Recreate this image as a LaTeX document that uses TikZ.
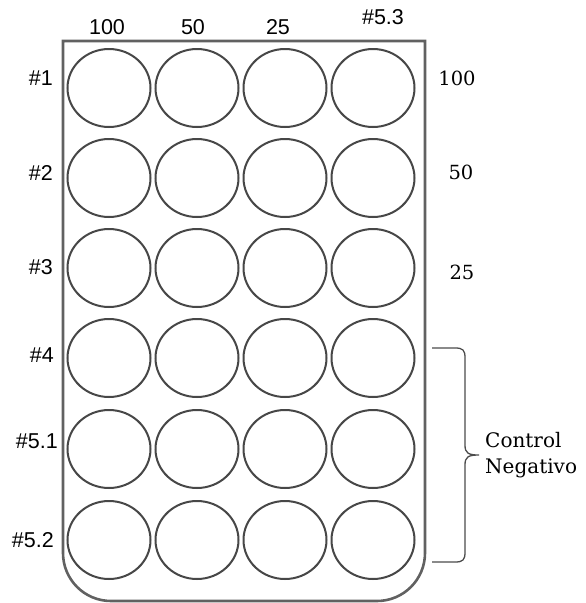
\documentclass[tikz,border=0pt]{standalone}
\usepackage{fontspec}
\setmainfont{DejaVu Serif}
\newfontfamily\lsans{Liberation Sans}
\usetikzlibrary{shapes.geometric}
\begin{document}
\begin{tikzpicture}[x=1pt,y=-1pt,
  well/.style={draw=black!72,line width=2pt,ellipse,minimum width=83pt,minimum height=78pt,inner sep=0pt},
  plate/.style={draw=black!62,line width=2.6pt},
  slab/.style={font=\lsans\fontsize{21.5}{23}\selectfont,inner sep=0pt},
  rlab/.style={font=\fontsize{19.5}{21}\selectfont,inner sep=0pt},
  brace/.style={draw=black!70,line width=1.3pt}]
\useasboundingbox (0,0) rectangle (586,603);
% plate
\draw[plate] (63,41) -- (63,553) arc[start angle=180,end angle=90,radius=48] -- (377,601) arc[start angle=90,end angle=0,radius=48] -- (425,41) -- cycle;
% wells
\foreach \r/\y in {1/88,2/178,3/268,4/358,5/449,6/540}{
  \foreach \c/\x in {1/109,2/197,3/285,4/373}{
    \node[well] (w-\r-\c) at (\x,\y) {};
  }
}
% top labels
\node[slab] (t1) at (107,27) {100};
\node[slab] (t2) at (193,27) {50};
\node[slab] (t3) at (278,27) {25};
\node[slab] (t4) at (383,17) {\#5.3};
% left labels
\node[slab,anchor=east] (l1) at (53,78) {\#1};
\node[slab,anchor=east] (l2) at (53,173) {\#2};
\node[slab,anchor=east] (l3) at (53,267) {\#3};
\node[slab,anchor=east] (l4) at (54,355) {\#4};
\node[slab,anchor=east] (l5) at (58,441) {\#5.1};
\node[slab,anchor=east] (l6) at (54,540) {\#5.2};
% right labels
\node[rlab] (r1) at (457,78) {100};
\node[rlab] (r2) at (461,172) {50};
\node[rlab] (r3) at (462,272) {25};
% brace
\coordinate (bt) at (432,348);
\coordinate (bm) at (479,455);
\coordinate (bb) at (432,562);
\draw[brace] (bt) -- (455,348) .. controls (463,348) and (465,350) .. (465,358) -- (465,445) .. controls (465,453) and (468,455) .. (bm) .. controls (468,455) and (465,457) .. (465,465) -- (465,552) .. controls (465,560) and (463,562) .. (455,562) -- (bb);
\node[rlab,anchor=west,align=left,font=\fontsize{20}{26}\selectfont] (cn) at (485,455) {Control\\Negativo};
\end{tikzpicture}
\end{document}
